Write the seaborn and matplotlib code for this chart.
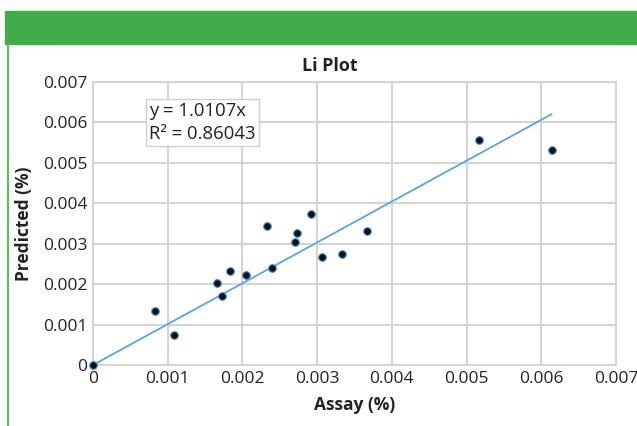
import matplotlib
matplotlib.use("Agg")
import matplotlib.pyplot as plt
import seaborn as sns
import pandas as pd
from matplotlib.patches import Rectangle
from matplotlib.lines import Line2D

assay = [0.0, 0.00083, 0.00108, 0.001665, 0.001727, 0.00183, 0.002044, 0.00233,
         0.002396, 0.00271, 0.002727, 0.002923, 0.00307, 0.00333, 0.003664,
         0.005163, 0.006137]
predicted = [0.0, 0.001344, 0.000735, 0.002037, 0.001708, 0.002334, 0.00222, 0.003433,
             0.002409, 0.003037, 0.003275, 0.003745, 0.00268, 0.00274, 0.003309,
             0.005577, 0.005314]
slope = 1.0107
r2 = 0.86043
ticks = [0, 0.001, 0.002, 0.003, 0.004, 0.005, 0.006, 0.007]
tick_labels = ["0", "0.001", "0.002", "0.003", "0.004", "0.005", "0.006", "0.007"]

sns.set_style("white")
plt.rcParams['font.family'] = ['Open Sans', 'DejaVu Sans']

df = pd.DataFrame({"Assay": assay, "Predicted": predicted})
xfit = [0.0, max(assay)]
fit = pd.DataFrame({"x": xfit, "y": [slope * v for v in xfit]})

fig = plt.figure(figsize=(6.37, 4.26), dpi=100)
fig.patches.append(Rectangle((5/637, (426-44)/426), 1 - 5/637, 33/426,
                             transform=fig.transFigure, color="#41AD49", zorder=0))
fig.lines.append(Line2D([7.5/637, 7.5/637], [0, (426-44)/426], transform=fig.transFigure,
                        color="#5DBB63", lw=1.5))

ax = fig.add_axes([93/637, (426-365)/426, (616-93)/637, (365-82)/426])
grid_c = "#D4D4D4"
sns.lineplot(data=fit, x="x", y="y", ax=ax, color="#5AA5DD", lw=1.3, zorder=2)
sns.scatterplot(data=df, x="Assay", y="Predicted", ax=ax, color="#111111",
                edgecolor="#3E8FD0", linewidth=0.8, s=30, zorder=3, clip_on=False)

ax.set_xlim(0, 0.007)
ax.set_ylim(0, 0.007)
ax.set_xticks(ticks)
ax.set_xticklabels(tick_labels)
ax.set_yticks(ticks)
ax.set_yticklabels(tick_labels)
ax.grid(True, color=grid_c, lw=1.5)
ax.set_axisbelow(True)
for s in ax.spines.values():
    s.set_color(grid_c)
    s.set_linewidth(1.5)
ax.tick_params(length=0, labelsize=12.5, colors="#222222", pad=4)
ax.set_xlabel("Assay (%)", fontsize=12.5, fontweight="bold", color="#222222", labelpad=7)
ax.set_ylabel("Predicted (%)", fontsize=12.5, fontweight="bold", color="#222222", labelpad=7)
fig.text(330/637, (426-66)/426, "Li Plot", fontsize=13, fontweight="bold",
         color="#222222", ha="center", va="center")

ax.text(0.00075, 0.006, "y = 1.0107x\nR² = 0.86043", fontsize=13.3, color="#222222",
        va="center", ha="left", linespacing=1.3,
        bbox=dict(boxstyle="square,pad=0.18", fc="white", ec="#CFCFCF", lw=1))

fig.savefig("out.png", dpi=100)
